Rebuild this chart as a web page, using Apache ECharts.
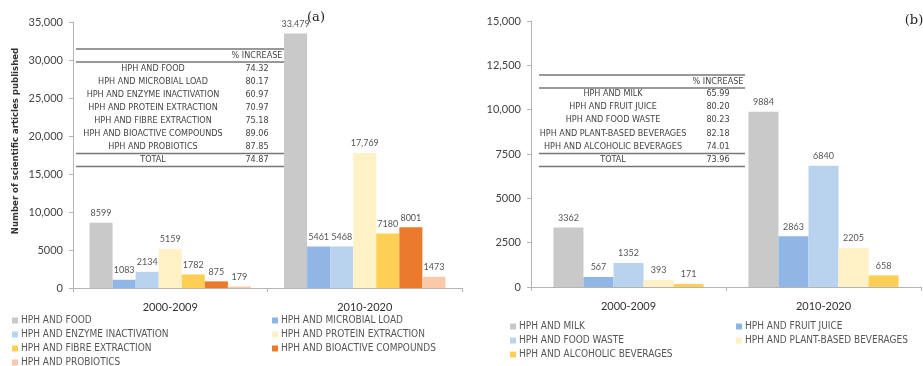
<!DOCTYPE html>
<html>
<head>
<meta charset="utf-8">
<script src="https://cdn.jsdelivr.net/npm/echarts@6/dist/echarts.min.js"></script>
<style>
  html, body { margin: 0; padding: 0; background: #fff; }
  #chart { width: 923px; height: 366px; }
</style>
</head>
<body>
<div id="chart"></div>
<script>
// ---- Panel (a): HPH research topics ----
const periods = ['2000-2009', '2010-2020'];

const topicsA = [
  'HPH AND FOOD',
  'HPH AND MICROBIAL LOAD',
  'HPH AND ENZYME INACTIVATION',
  'HPH AND PROTEIN EXTRACTION',
  'HPH AND FIBRE EXTRACTION',
  'HPH AND BIOACTIVE COMPOUNDS',
  'HPH AND PROBIOTICS'
];
const food       = [8599, 33479];
const microbial  = [1083, 5461];
const enzyme     = [2134, 5468];
const protein    = [5159, 17769];
const fibre      = [1782, 7180];
const bioactive  = [875, 8001];
const probiotics = [179, 1473];
const valuesA = [food, microbial, enzyme, protein, fibre, bioactive, probiotics];
const labelsA = [
  ['8599', '33.479'], ['1083', '5461'], ['2134', '5468'], ['5159', '17,769'],
  ['1782', '7180'], ['875', '8001'], ['179', '1473']
];
const colorsA = ['#c9c9c9', '#8fb6e4', '#b9d3ee', '#fef1c6', '#fdd055', '#ec7a2c', '#f9c9aa'];

const tableRowsA = [
  'HPH AND FOOD', 'HPH AND MICROBIAL LOAD', 'HPH AND ENZYME INACTIVATION',
  'HPH AND PROTEIN EXTRACTION', 'HPH AND FIBRE EXTRACTION',
  'HPH AND BIOACTIVE COMPOUNDS', 'HPH AND PROBIOTICS'
];
const tableIncA = ['74.32', '80.17', '60.97', '70.97', '75.18', '89.06', '87.85'];
const tableTotalA = '74.87';

// ---- Panel (b): HPH in beverages and by-products ----
const topicsB = [
  'HPH AND MILK',
  'HPH AND FRUIT JUICE',
  'HPH AND FOOD WASTE',
  'HPH AND PLANT-BASED BEVERAGES',
  'HPH AND ALCOHOLIC BEVERAGES'
];
const milk      = [3362, 9884];
const juice     = [567, 2863];
const waste     = [1352, 6840];
const plant     = [393, 2205];
const alcoholic = [171, 658];
const valuesB = [milk, juice, waste, plant, alcoholic];
const colorsB = ['#c9c9c9', '#8fb6e4', '#b9d3ee', '#fef1c6', '#fdd055'];

const tableRowsB = [
  'HPH AND MILK', 'HPH AND FRUIT JUICE', 'HPH AND FOOD WASTE',
  'HPH AND PLANT-BASED BEVERAGES', 'HPH AND ALCOHOLIC BEVERAGES'
];
const tableIncB = ['65.99', '80.20', '80.23', '82.18', '74.01'];
const tableTotalB = '73.96';

// ---- shared styling ----
const axisGray = '#b4b4b4';
const textGray = '#444';
const roundFont = "'Lato', 'Open Sans', sans-serif";
const narrowFont = "'Liberation Sans Narrow', 'DejaVu Sans Condensed', 'Liberation Sans', sans-serif";

function tickLabel(v) {
  return v >= 10000 ? v.toLocaleString('en-US') : String(v);
}

function makeSeries(names, values, colors, labels, axisIdx) {
  return names.map((n, i) => ({
    name: n,
    type: 'bar',
    xAxisIndex: axisIdx,
    yAxisIndex: axisIdx,
    data: values[i],
    barGap: '0%',
    barCategoryGap: axisIdx === 0 ? '17%' : '23%',
    itemStyle: { color: colors[i] },
    label: {
      show: true,
      position: 'top',
      distance: 5,
      fontSize: 9,
      fontFamily: roundFont,
      color: '#555',
      formatter: p => labels ? labels[i][p.dataIndex] : String(p.value)
    }
  }));
}

function legendCol(names, x, y) {
  return {
    data: names,
    orient: 'vertical',
    left: x,
    top: y,
    height: 100,
    itemWidth: 6,
    itemHeight: 6,
    itemGap: 3,
    icon: 'rect',
    padding: 0,
    selectedMode: false,
    textStyle: { fontSize: 10, lineHeight: 11, color: '#555', fontFamily: narrowFont, padding: [0, 0, 0, -2] }
  };
}

// Draws a ruled "% INCREASE" table as graphic elements
function buildTable(x0, x1, cx1, cx2, topY, rowYs, rows, incs, total) {
  const els = [];
  const lineStyle = { stroke: '#777', lineWidth: 1.5 };
  const hdrY = topY + 7;
  const sepY = topY + 13;
  const lastRow = rowYs[rowYs.length - 1];
  const totY1 = lastRow + 6.5;
  const totY2 = totY1 + 13;
  [topY, sepY, totY1, totY2].forEach(y => els.push({
    type: 'line', shape: { x1: x0, y1: y, x2: x1, y2: y }, style: lineStyle, silent: true
  }));
  const t = (txt, x, y) => ({
    type: 'text', x: x, y: y, silent: true,
    style: { text: txt, fontSize: 9, fontFamily: narrowFont, fill: textGray, align: 'center', verticalAlign: 'middle' }
  });
  els.push(t('% INCREASE', cx2, hdrY));
  rows.forEach((r, i) => {
    els.push(t(r, cx1, rowYs[i]));
    els.push(t(incs[i], cx2, rowYs[i]));
  });
  els.push(t('TOTAL', cx1, totY1 + 6.5));
  els.push(t(total, cx2, totY1 + 6.5));
  return els;
}

const rowYsA = [69, 82, 95, 108, 121, 134, 147];
const rowYsB = [94, 107, 120, 134, 147];

const chart = echarts.init(document.getElementById('chart'));
const axisCommonX = {
  type: 'category',
  data: periods,
  axisLine: { lineStyle: { color: axisGray } },
  axisTick: { show: true, length: 4, lineStyle: { color: axisGray } },
  axisLabel: { fontSize: 11, color: '#333', fontFamily: roundFont, margin: 14 }
};
const axisCommonY = {
  type: 'value',
  min: 0,
  axisLine: { show: true, lineStyle: { color: axisGray } },
  axisTick: { show: true, length: 4, lineStyle: { color: axisGray } },
  splitLine: { show: false },
  axisLabel: { fontSize: 11, color: textGray, fontFamily: roundFont, margin: 10, formatter: tickLabel }
};

chart.setOption({
  animation: false,
  textStyle: { fontFamily: roundFont },
  grid: [
    { left: 73, right: 461, top: 22, bottom: 78 },
    { left: 531, right: 2, top: 21, bottom: 79 }
  ],
  xAxis: [
    Object.assign({ gridIndex: 0 }, axisCommonX),
    Object.assign({ gridIndex: 1 }, axisCommonX)
  ],
  yAxis: [
    Object.assign({}, axisCommonY, { gridIndex: 0, max: 35000, interval: 5000 }),
    Object.assign({}, axisCommonY, { gridIndex: 1, max: 15000, interval: 2500 })
  ],
  legend: [
    legendCol([topicsA[0], topicsA[2], topicsA[4], topicsA[6]], 12, 315),
    legendCol([topicsA[1], topicsA[3], topicsA[5]], 272, 315),
    legendCol([topicsB[0], topicsB[2], topicsB[4]], 510, 321),
    legendCol([topicsB[1], topicsB[3]], 736, 321)
  ],
  series: makeSeries(topicsA, valuesA, colorsA, labelsA, 0)
    .concat(makeSeries(topicsB, valuesB, colorsB, null, 1)),
  graphic: [
    { type: 'text', x: 16, y: 141, rotation: Math.PI / 2, silent: true,
      style: { text: 'Number of scientific articles published', fontSize: 9.5, fontWeight: 'bold',
               fontFamily: "'DejaVu Sans Condensed', 'Open Sans', sans-serif", fill: '#333',
               align: 'center', verticalAlign: 'middle' } },
    { type: 'text', x: 316, y: 18, silent: true,
      style: { text: '(a)', fontSize: 13, fontFamily: "'DejaVu Serif', serif", fill: '#222', align: 'center', verticalAlign: 'middle' } },
    { type: 'text', x: 914, y: 21, silent: true,
      style: { text: '(b)', fontSize: 13, fontFamily: "'DejaVu Serif', serif", fill: '#222', align: 'center', verticalAlign: 'middle' } }
  ].concat(
    buildTable(76, 287, 153, 257, 49, rowYsA, tableRowsA, tableIncA, tableTotalA),
    buildTable(539, 745, 613, 718, 75, rowYsB, tableRowsB, tableIncB, tableTotalB)
  )
});
</script>
</body>
</html>
